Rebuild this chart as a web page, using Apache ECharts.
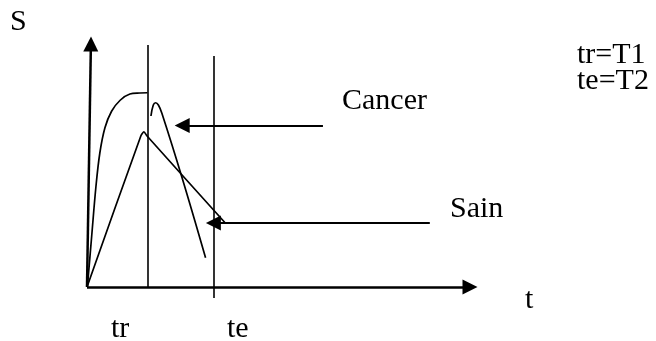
<!DOCTYPE html>
<html>
<head>
<meta charset="utf-8">
<script src="https://cdn.jsdelivr.net/npm/echarts@6/dist/echarts.min.js"></script>
<style>
  html, body { margin: 0; padding: 0; background: #fff; }
  #chart { width: 656px; height: 341px; }
</style>
</head>
<body>
<div id="chart"></div>
<script>
// signal S against time t (arbitrary units)
const cancerRise = [[0.1, 0], [1.2, 20.3], [2.3, 40.3], [3.3, 53.7], [4.6, 63.7], [6.3, 70.3], [8.5, 74.7], [11, 77.2], [13.6, 77.6], [15.5, 77.7]];
const cancerFall = [[16.4, 68.4], [17.0, 72.8], [17.6, 73.7], [18.3, 72.8], [19.2, 69.5], [24.3, 44.1], [30.4, 11.7]];
const sain = [[0, 0], [13.8, 60.4], [14.6, 62.1], [15.4, 60.4], [35.4, 25.7]];

// guide lines: tr and te
const guideNames = ["tr", "te"];
const guideX = [15.5, 32.6];
const guideFrom = [0, -4.4];
const guideTo = [96.8, 92.4];

// pointer arrows to the curves: [from, to]
const arrowNames = ["Cancer", "Sain"];
const arrowY = [64.6, 25.6];
const arrowFrom = [60.5, 87.9];
const arrowTo = [24.4, 32.4];

const axisNames = ["t", "S"];
const notes = ["tr=T1", "te=T2"];

const FONT = "Liberation Serif";
const ink = "#000";

const chart = echarts.init(document.getElementById("chart"), null, {renderer: "canvas"});

function seg(a, b, head, width) {
    return [
        {coord: a, symbol: "none", lineStyle: {width: width}},
        {coord: b, symbol: head ? "triangle" : "none", symbolSize: head || 0}
    ];
}

const marks = [
    seg([0, 0], [98.2, 0], 15, 2.5),   // t axis
    seg([0, 0], [1, 97.2], 15, 2.5)    // S axis
];
guideX.forEach((x, i) => marks.push(seg([x, guideFrom[i]], [x, guideTo[i]], 0, 1.6)));
arrowY.forEach((y, i) => marks.push(seg([arrowFrom[i], y], [arrowTo[i], y], 15, 2)));

function txt(text, left, top) {
    return {
        type: "text", left: left, top: top, silent: true,
        style: {text: text, font: "30px '" + FONT + "'", fill: ink}
    };
}

const curveStyle = {color: ink, width: 1.7};

const option = {
    animation: false,
    backgroundColor: "#fff",
    grid: {left: 87, top: 37, width: 390, height: 300},
    xAxis: {type: "value", min: 0, max: 100, show: false},
    yAxis: {type: "value", min: -20, max: 100, show: false},
    series: [
        {
            type: "line", data: cancerRise, smooth: 0.35,
            showSymbol: false, lineStyle: curveStyle, silent: true
        },
        {
            type: "line", data: cancerFall, smooth: 0.4,
            showSymbol: false, lineStyle: curveStyle, silent: true
        },
        {
            type: "line", data: sain, smooth: 0.2,
            showSymbol: false, lineStyle: curveStyle, silent: true,
            markLine: {
                silent: true,
                animation: false,
                label: {show: false},
                emphasis: {disabled: true},
                lineStyle: {color: ink, width: 2, type: "solid"},
                itemStyle: {color: ink},
                data: marks
            }
        }
    ],
    graphic: [
        txt(axisNames[1], 10, 7),
        txt(axisNames[0], 525, 285),
        txt(notes[0], 577, 40),
        txt(notes[1], 577, 66),
        txt(arrowNames[0], 342, 86),
        txt(arrowNames[1], 450, 194),
        txt(guideNames[0], 111, 314),
        txt(guideNames[1], 227, 314)
    ]
};

chart.setOption(option);
</script>
</body>
</html>
